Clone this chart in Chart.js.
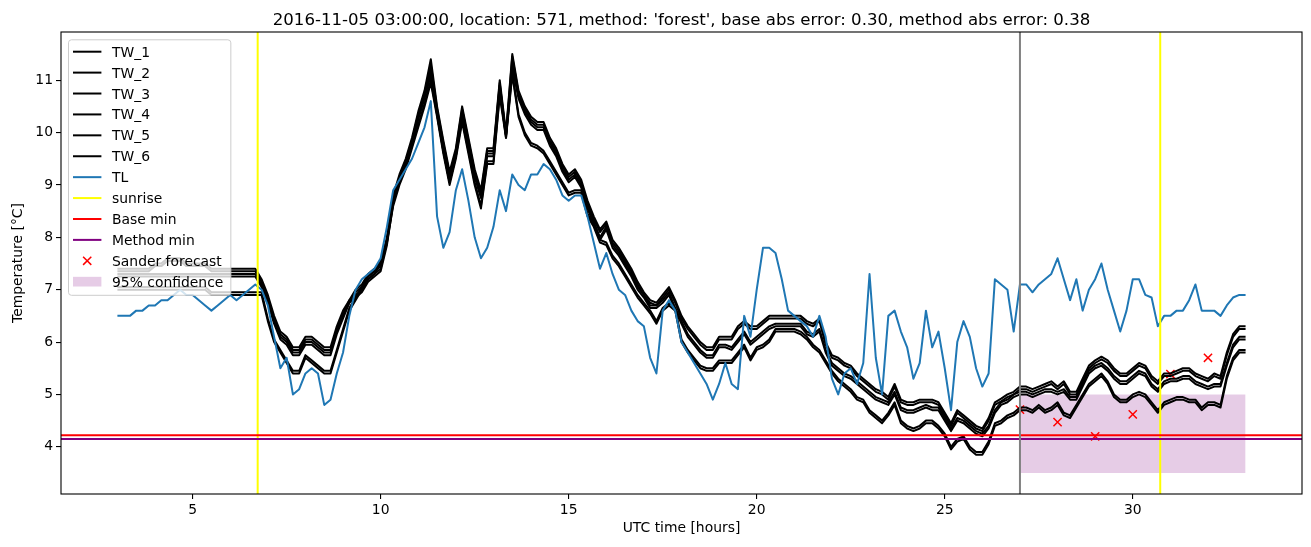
<!DOCTYPE html>
<html><head><meta charset="utf-8">
<script src="https://cdn.jsdelivr.net/npm/chart.js@4.4.0/dist/chart.umd.min.js"></script>
<style>html,body{margin:0;padding:0;background:#fff;}#wrap{width:1311px;height:547px;}</style>
</head><body><div id="wrap"><canvas id="c" width="1311" height="547"></canvas></div>
<script>
const TITLE = "2016-11-05 03:00:00, location: 571, method: 'forest', base abs error: 0.30, method abs error: 0.38";
const X_LABEL = "UTC time [hours]";
const Y_LABEL = "Temperature [°C]";
// 10-minute time grid, 3.0 h .. 33.0 h
const times = Array.from({length: 181}, (_, i) => 3 + i / 6);

const TW_1 = [
7.4,7.4,7.4,7.4,7.4,7.4,
7.5,7.5,7.6,7.6,7.6,7.5,
7.5,7.5,7.5,7.4,7.4,7.4,
7.4,7.4,7.4,7.4,7.4,7.2,
6.9,6.5,6.2,6.1,5.9,5.9,
6.1,6.1,6.0,5.9,5.9,6.3,
6.6,6.8,7.0,7.1,7.3,7.4,
7.5,8.0,8.8,9.2,9.5,9.9,
10.4,10.8,11.4,10.5,9.85,9.25,
9.7,10.5,9.9,9.3,8.9,9.7,
9.7,11.0,10.0,11.5,10.8,10.5,
10.3,10.2,10.2,9.9,9.7,9.4,
9.2,9.3,9.1,8.7,8.4,8.15,
8.3,7.95,7.8,7.6,7.4,7.15,
6.95,6.8,6.75,6.9,7.05,6.8,
6.5,6.3,6.15,6.0,5.9,5.9,
6.1,6.1,6.1,6.3,6.4,6.3,
6.3,6.4,6.5,6.5,6.5,6.5,
6.5,6.5,6.4,6.35,6.45,6.0,
5.75,5.7,5.6,5.55,5.4,5.3,
5.2,5.1,5.05,4.95,5.2,4.9,
4.85,4.85,4.9,4.9,4.9,4.85,
4.65,4.45,4.7,4.6,4.5,4.4,
4.35,4.55,4.85,4.92,5.0,5.05,
5.15,5.15,5.1,5.15,5.2,5.25,
5.15,5.25,5.05,5.05,5.3,5.55,
5.65,5.72,5.65,5.5,5.4,5.4,
5.5,5.6,5.55,5.35,5.25,5.4,
5.4,5.45,5.5,5.5,5.4,5.35,
5.3,5.4,5.35,5.8,6.15,6.3,
6.3];
const TW_2 = [
7.35,7.35,7.35,7.35,7.35,7.35,
7.45,7.45,7.55,7.55,7.55,7.45,
7.45,7.45,7.45,7.35,7.35,7.35,
7.35,7.35,7.35,7.35,7.35,7.15,
6.85,6.45,6.15,6.05,5.85,5.85,
6.05,6.05,5.95,5.85,5.85,6.25,
6.55,6.75,6.95,7.05,7.25,7.35,
7.45,7.95,8.75,9.15,9.45,9.85,
10.35,10.75,11.3,10.45,9.8,9.2,
9.65,10.45,9.85,9.25,8.85,9.65,
9.65,10.95,9.95,11.45,10.75,10.45,
10.25,10.15,10.15,9.85,9.65,9.35,
9.15,9.25,9.05,8.65,8.35,8.1,
8.25,7.9,7.75,7.55,7.35,7.1,
6.9,6.75,6.7,6.85,7.0,6.75,
6.45,6.25,6.1,5.95,5.85,5.85,
6.05,6.05,6.05,6.25,6.35,6.25,
6.25,6.35,6.45,6.45,6.45,6.45,
6.45,6.45,6.35,6.3,6.4,5.95,
5.7,5.65,5.55,5.5,5.35,5.25,
5.15,5.05,5.0,4.9,5.15,4.85,
4.8,4.8,4.85,4.85,4.85,4.8,
4.6,4.4,4.65,4.55,4.45,4.35,
4.3,4.5,4.8,4.87,4.95,5.0,
5.1,5.1,5.05,5.1,5.15,5.2,
5.1,5.2,5.0,5.0,5.25,5.5,
5.6,5.67,5.6,5.45,5.35,5.35,
5.45,5.55,5.5,5.3,5.2,5.35,
5.35,5.4,5.45,5.45,5.35,5.3,
5.25,5.35,5.3,5.75,6.1,6.25,
6.25];
const TW_3 = [
7.3,7.3,7.3,7.3,7.3,7.3,
7.3,7.3,7.3,7.3,7.3,7.3,
7.3,7.3,7.3,7.3,7.3,7.3,
7.3,7.3,7.3,7.3,7.3,7.1,
6.8,6.4,6.1,6.0,5.8,5.8,
6.0,6.0,5.9,5.8,5.8,6.2,
6.5,6.8,6.9,7.0,7.2,7.3,
7.4,7.9,8.7,9.1,9.4,9.8,
10.3,10.7,11.2,10.4,9.7,9.1,
9.6,10.4,9.8,9.2,8.8,9.6,
9.6,10.9,9.95,11.3,10.7,10.4,
10.2,10.1,10.1,9.8,9.6,9.3,
9.1,9.2,9.0,8.6,8.3,8.0,
8.2,7.85,7.7,7.5,7.3,7.05,
6.9,6.7,6.7,6.8,6.95,6.65,
6.4,6.15,6.0,5.85,5.75,5.75,
5.95,5.95,5.9,6.05,6.2,6.0,
6.1,6.2,6.3,6.35,6.35,6.35,
6.35,6.35,6.2,6.15,6.25,5.85,
5.6,5.5,5.4,5.35,5.25,5.15,
5.05,4.95,4.9,4.85,5.05,4.75,
4.7,4.7,4.75,4.8,4.75,4.75,
4.55,4.35,4.55,4.5,4.4,4.3,
4.25,4.4,4.7,4.85,4.9,5.0,
5.05,5.05,5.0,5.05,5.1,5.1,
5.05,5.1,4.95,4.95,5.2,5.45,
5.55,5.6,5.5,5.35,5.25,5.25,
5.35,5.45,5.4,5.2,5.1,5.25,
5.3,5.3,5.35,5.35,5.25,5.2,
5.15,5.2,5.2,5.6,5.95,6.1,
6.1];
const TW_4 = [
7.25,7.25,7.25,7.25,7.25,7.25,
7.25,7.25,7.25,7.25,7.25,7.25,
7.25,7.25,7.25,7.25,7.25,7.25,
7.25,7.25,7.25,7.25,7.25,7.05,
6.75,6.35,6.05,5.95,5.75,5.75,
5.95,5.95,5.85,5.75,5.75,6.15,
6.45,6.75,6.85,6.95,7.15,7.25,
7.35,7.85,8.65,9.05,9.35,9.75,
10.25,10.65,11.1,10.35,9.65,9.05,
9.55,10.35,9.75,9.15,8.75,9.55,
9.55,10.85,9.9,11.25,10.65,10.35,
10.15,10.05,10.05,9.75,9.55,9.25,
9.05,9.15,8.95,8.55,8.25,7.95,
8.15,7.8,7.65,7.45,7.25,7.0,
6.85,6.65,6.65,6.75,6.9,6.6,
6.35,6.1,5.95,5.8,5.7,5.7,
5.9,5.9,5.85,6.0,6.15,5.95,
6.05,6.15,6.25,6.3,6.3,6.3,
6.3,6.3,6.15,6.1,6.2,5.8,
5.55,5.45,5.35,5.3,5.2,5.1,
5.0,4.9,4.85,4.8,5.0,4.7,
4.65,4.65,4.7,4.75,4.7,4.7,
4.5,4.3,4.5,4.45,4.35,4.25,
4.2,4.35,4.65,4.8,4.85,4.95,
5.0,5.0,4.95,5.0,5.05,5.05,
5.0,5.05,4.9,4.9,5.15,5.4,
5.5,5.55,5.45,5.3,5.2,5.2,
5.3,5.4,5.35,5.15,5.05,5.2,
5.25,5.25,5.3,5.3,5.2,5.15,
5.1,5.15,5.15,5.55,5.9,6.05,
6.05];
const TW_5 = [
7.0,7.0,7.0,7.0,7.0,7.0,
7.0,7.0,7.0,7.0,7.0,7.0,
7.0,7.0,7.0,6.9,6.9,6.9,
6.9,6.9,6.9,6.9,6.9,6.9,
6.4,6.0,5.8,5.6,5.4,5.4,
5.7,5.6,5.5,5.4,5.4,5.8,
6.2,6.6,6.8,7.0,7.2,7.3,
7.5,7.9,8.6,9.0,9.3,9.7,
10.1,10.5,10.95,10.3,9.6,9.0,
9.5,10.2,9.6,9.0,8.55,9.4,
9.4,10.7,9.9,11.1,10.3,9.95,
9.75,9.7,9.6,9.4,9.2,9.0,
8.8,8.85,8.85,8.4,8.2,7.9,
7.85,7.6,7.45,7.25,7.05,6.85,
6.7,6.55,6.35,6.6,6.7,6.6,
6.0,5.8,5.65,5.5,5.45,5.45,
5.6,5.6,5.6,5.75,5.9,5.65,
5.85,5.9,6.0,6.2,6.2,6.2,
6.2,6.15,6.05,5.9,5.8,5.6,
5.4,5.25,5.15,5.05,4.9,4.85,
4.65,4.55,4.45,4.6,4.8,4.45,
4.35,4.3,4.35,4.45,4.45,4.35,
4.2,3.95,4.1,4.15,3.95,3.85,
3.85,4.05,4.4,4.45,4.55,4.6,
4.7,4.7,4.65,4.75,4.65,4.7,
4.8,4.6,4.55,4.75,4.95,5.15,
5.25,5.35,5.2,4.95,4.85,4.85,
4.95,5.0,4.95,4.8,4.65,4.8,
4.85,4.9,4.9,4.85,4.85,4.7,
4.8,4.8,4.75,5.3,5.65,5.8,
5.8];
const TW_6 = [
7.05,7.05,7.05,7.05,7.05,7.05,
7.05,7.05,7.05,7.05,7.05,7.05,
7.05,7.05,7.05,6.95,6.95,6.95,
6.95,6.95,6.95,6.95,6.95,6.95,
6.45,6.05,5.85,5.65,5.45,5.45,
5.75,5.65,5.55,5.45,5.45,5.85,
6.25,6.65,6.85,7.05,7.25,7.35,
7.55,7.95,8.65,9.05,9.35,9.75,
10.15,10.55,11.0,10.35,9.65,9.05,
9.55,10.25,9.65,9.05,8.6,9.45,
9.45,10.75,9.95,11.15,10.35,10.0,
9.8,9.75,9.65,9.45,9.25,9.05,
8.85,8.9,8.9,8.45,8.25,7.95,
7.9,7.65,7.5,7.3,7.1,6.9,
6.75,6.6,6.4,6.65,6.75,6.65,
6.05,5.85,5.7,5.55,5.5,5.5,
5.65,5.65,5.65,5.8,5.95,5.7,
5.9,5.95,6.05,6.25,6.25,6.25,
6.25,6.2,6.1,5.95,5.85,5.65,
5.45,5.3,5.2,5.1,4.95,4.9,
4.7,4.6,4.5,4.65,4.85,4.5,
4.4,4.35,4.4,4.5,4.5,4.4,
4.25,4.0,4.15,4.2,4.0,3.9,
3.9,4.1,4.45,4.5,4.6,4.65,
4.75,4.75,4.7,4.8,4.7,4.75,
4.85,4.65,4.6,4.8,5.0,5.2,
5.3,5.4,5.25,5.0,4.9,4.9,
5.0,5.05,5.0,4.85,4.7,4.85,
4.9,4.95,4.95,4.9,4.9,4.75,
4.85,4.85,4.8,5.35,5.7,5.85,
5.85];
const TL = [
6.5,6.5,6.5,6.6,6.6,6.7,
6.7,6.8,6.8,6.9,7.0,6.9,
6.9,6.8,6.7,6.6,6.7,6.8,
6.9,6.8,6.9,7.0,7.1,7.0,
6.7,6.1,5.5,5.7,5.0,5.1,
5.4,5.5,5.4,4.8,4.9,5.4,
5.8,6.5,7.0,7.2,7.3,7.4,
7.6,8.2,8.9,9.1,9.3,9.5,
9.8,10.1,10.6,8.4,7.8,8.1,
8.9,9.3,8.7,8.0,7.6,7.8,
8.2,8.9,8.5,9.2,9.0,8.9,
9.2,9.2,9.4,9.3,9.1,8.8,
8.7,8.8,8.8,8.4,7.9,7.4,
7.7,7.3,7.0,6.9,6.6,6.4,
6.3,5.7,5.4,6.6,6.8,6.6,
6.0,5.8,5.6,5.4,5.2,4.9,
5.2,5.6,5.2,5.1,6.5,6.1,
7.0,7.8,7.8,7.7,7.2,6.6,
6.5,6.4,6.3,6.1,6.5,6.1,
5.3,5.0,5.4,5.5,5.2,5.6,
7.3,5.7,5.0,6.5,6.6,6.2,
5.9,5.3,5.6,6.6,5.9,6.2,
5.5,4.7,6.0,6.4,6.1,5.5,
5.15,5.4,7.2,7.1,7.0,6.2,
7.1,7.1,6.95,7.1,7.2,7.3,
7.6,7.2,6.8,7.2,6.6,7.0,
7.2,7.5,7.0,6.6,6.2,6.6,
7.2,7.2,6.9,6.85,6.3,6.5,
6.5,6.6,6.6,6.8,7.1,6.6,
6.6,6.6,6.5,6.7,6.85,6.9,
6.9];

const sunriseHours = [6.73, 30.73];
const forecastStartHour = 27;
const baseMin = 4.22;
const methodMin = 4.15;
const sanderHours = [27, 28, 29, 30, 31, 32];
const sanderValues = [4.71, 4.47, 4.20, 4.62, 5.39, 5.70];
const confHours = [27, 33];
const confLow = 3.5;
const confHigh = 5.0;
const xTicks = [5, 10, 15, 20, 25, 30];
const yTicks = [4, 5, 6, 7, 8, 9, 10, 11];
const xRange = [1.5, 34.5];
const yRange = [3.099, 11.92];

const FONT = 'DejaVu Sans';
const twSeries = [TW_1, TW_2, TW_3, TW_4, TW_5, TW_6];
const pts = (xs, ys) => xs.map((x, i) => ({x, y: ys[i]}));

const datasets = [];
datasets.push({
  label: '95% confidence', data: confHours.map(h => ({x: h, y: confHigh})),
  fill: {value: confLow}, backgroundColor: 'rgba(128,0,128,0.2)', borderWidth: 0,
  pointRadius: 0, order: 100
});
datasets.push({
  label: 'Sander forecast', data: pts(sanderHours, sanderValues), showLine: false,
  pointStyle: 'crossRot', pointRadius: 5.8, borderColor: '#ff0000', backgroundColor: '#ff0000',
  pointBorderWidth: 1.5, order: 90
});
twSeries.forEach((s, k) => datasets.push({
  label: 'TW_' + (k + 1), data: pts(times, s), borderColor: '#000000', borderWidth: 2,
  pointRadius: 0, fill: false, tension: 0, borderJoinStyle: 'round', order: 80 - k
}));
datasets.push({
  label: 'TL', data: pts(times, TL), borderColor: '#1f77b4', borderWidth: 2,
  pointRadius: 0, fill: false, tension: 0, borderJoinStyle: 'round', order: 10
});

const refLines = {
  id: 'refLines',
  afterDatasetsDraw(chart) {
    const {ctx, chartArea: a, scales: {x, y}} = chart;
    ctx.save();
    ctx.beginPath(); ctx.rect(a.left, a.top, a.right - a.left, a.bottom - a.top); ctx.clip();
    ctx.lineWidth = 2;
    const vline = (v, c) => { const px = x.getPixelForValue(v); ctx.strokeStyle = c; ctx.beginPath(); ctx.moveTo(px, a.top); ctx.lineTo(px, a.bottom); ctx.stroke(); };
    const hline = (v, c) => { const py = y.getPixelForValue(v); ctx.strokeStyle = c; ctx.beginPath(); ctx.moveTo(a.left, py); ctx.lineTo(a.right, py); ctx.stroke(); };
    sunriseHours.forEach(h => vline(h, '#ffff00'));
    hline(baseMin, '#ff0000');
    hline(methodMin, '#800080');
    vline(forecastStartHour, '#808080');
    ctx.restore();
    // spines
    ctx.save();
    ctx.strokeStyle = '#000'; ctx.lineWidth = 1.1;
    ctx.strokeRect(a.left, a.top, a.right - a.left, a.bottom - a.top);
    ctx.restore();
  },
  afterDraw(chart) {
    const {ctx, chartArea: a} = chart;
    ctx.save();
    // title
    ctx.fillStyle = '#000'; ctx.font = '16.6px "' + FONT + '"';
    ctx.textAlign = 'center'; ctx.textBaseline = 'alphabetic';
    ctx.fillText(TITLE, (a.left + a.right) / 2, 25);
    // legend
    const entries = [];
    for (let k = 0; k < 6; k++) entries.push({t: 'TW_' + (k + 1), kind: 'line', c: '#000'});
    entries.push({t: 'TL', kind: 'line', c: '#1f77b4'});
    entries.push({t: 'sunrise', kind: 'line', c: '#ffff00'});
    entries.push({t: 'Base min', kind: 'line', c: '#ff0000'});
    entries.push({t: 'Method min', kind: 'line', c: '#800080'});
    entries.push({t: 'Sander forecast', kind: 'x', c: '#ff0000'});
    entries.push({t: '95% confidence', kind: 'rect', c: 'rgba(128,0,128,0.2)'});
    ctx.font = '13.9px "' + FONT + '"';
    let maxW = 0; entries.forEach(e => maxW = Math.max(maxW, ctx.measureText(e.t).width));
    const bx = a.left + 7, by = a.top + 7.3;
    const hx0 = bx + 5, hx1 = bx + 33.4, tx = bx + 44;
    const bw = tx - bx + maxW + 7, bh = 255.5;
    ctx.beginPath();
    if (ctx.roundRect) ctx.roundRect(bx + 0.5, by + 0.5, bw, bh, 3); else ctx.rect(bx + 0.5, by + 0.5, bw, bh);
    ctx.fillStyle = 'rgba(255,255,255,0.8)'; ctx.fill();
    ctx.strokeStyle = '#cccccc'; ctx.lineWidth = 1; ctx.stroke();
    ctx.textAlign = 'left'; ctx.textBaseline = 'alphabetic';
    entries.forEach((e, k) => {
      const cy = by + 12.4 + k * 20.91;
      if (e.kind === 'line') {
        ctx.strokeStyle = e.c; ctx.lineWidth = 2; ctx.beginPath(); ctx.moveTo(hx0, cy); ctx.lineTo(hx1, cy); ctx.stroke();
      } else if (e.kind === 'x') {
        const cx = (hx0 + hx1) / 2, r = 4.1;
        ctx.strokeStyle = e.c; ctx.lineWidth = 1.5; ctx.beginPath();
        ctx.moveTo(cx - r, cy - r); ctx.lineTo(cx + r, cy + r); ctx.moveTo(cx - r, cy + r); ctx.lineTo(cx + r, cy - r); ctx.stroke();
      } else {
        ctx.fillStyle = e.c; ctx.fillRect(hx0, cy - 4.9, hx1 - hx0, 9.7);
      }
      ctx.fillStyle = '#000'; ctx.fillText(e.t, tx, cy + 5);
    });
    ctx.restore();
  }
};

Chart.defaults.font.family = FONT;
new Chart(document.getElementById('c'), {
  type: 'line',
  data: {datasets},
  options: {
    responsive: false, animation: false, devicePixelRatio: 1,
    layout: {padding: {top: 32, right: 9, left: 0, bottom: 0}},
    plugins: {legend: {display: false}, tooltip: {enabled: false}, title: {display: false}},
    scales: {
      x: {
        type: 'linear', min: xRange[0], max: xRange[1],
        afterBuildTicks: s => { s.ticks = xTicks.map(v => ({value: v})); },
        afterFit: s => { s.height = 53; },
        ticks: {color: '#000', font: {size: 13.9, family: FONT}, padding: 3, maxRotation: 0, autoSkip: false},
        grid: {display: true, drawOnChartArea: false, drawTicks: true, tickLength: 5, color: '#000', lineWidth: 1.1},
        border: {display: false},
        title: {display: true, text: X_LABEL, color: '#000', font: {size: 13.9, family: FONT}, padding: {top: 0, bottom: 10}}
      },
      y: {
        type: 'linear', min: yRange[0], max: yRange[1],
        afterBuildTicks: s => { s.ticks = yTicks.map(v => ({value: v})); },
        afterFit: s => { s.width = 61; },
        ticks: {color: '#000', font: {size: 13.9, family: FONT}, padding: 3, autoSkip: false},
        grid: {display: true, drawOnChartArea: false, drawTicks: true, tickLength: 5, color: '#000', lineWidth: 1.1},
        border: {display: false},
        title: {display: true, text: Y_LABEL, color: '#000', font: {size: 13.9, family: FONT}, padding: {top: 10, bottom: 0}}
      }
    }
  },
  plugins: [refLines]
});
</script></body></html>
